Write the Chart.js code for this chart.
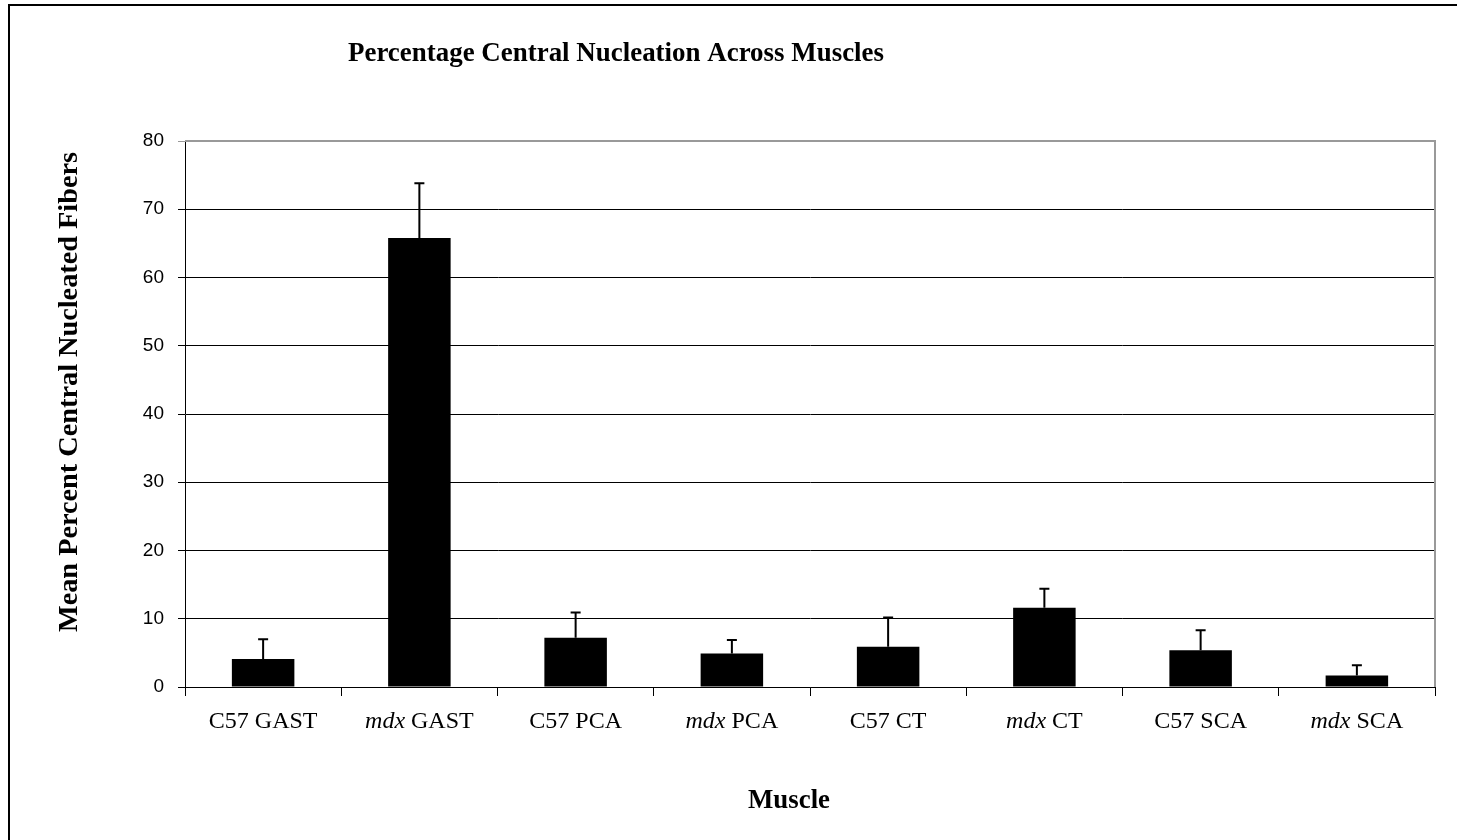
<!DOCTYPE html>
<html>
<head>
<meta charset="utf-8">
<script src="https://cdn.jsdelivr.net/npm/chart.js@4.4.1/dist/chart.umd.min.js"></script>
<style>
  html, body { margin: 0; padding: 0; background: #fff; }
  #wrap { width: 1457px; height: 840px; position: relative; }
</style>
</head>
<body>
<div id="wrap"><canvas id="chart"></canvas></div>
<script>
// data
var muscles = ["C57 GAST", "mdx GAST", "C57 PCA", "mdx PCA", "C57 CT", "mdx CT", "C57 SCA", "mdx SCA"];
var meanCN = [4.1, 65.8, 7.2, 4.9, 5.9, 11.6, 5.4, 1.7];
var errCN = [2.9, 8.0, 3.7, 2.0, 4.3, 2.8, 2.9, 1.5];
var yMax = 80;
var yStep = 10;

var chartTitle = "Percentage Central Nucleation Across Muscles";
var yTitle = "Mean Percent Central Nucleated Fibers";
var xTitle = "Muscle";

// fit a title to the width it has in the original
function stretchText(c, txt, x, y, w) {
    var m = c.measureText(txt).width;
    c.save();
    c.translate(x, y);
    c.scale(w / m, 1);
    c.fillText(txt, 0, 0);
    c.restore();
}

var deco = {
    id: "deco",
    beforeDraw: function(chart) {
        var c = chart.ctx;
        c.save();
        c.fillStyle = "#fff";
        c.fillRect(0, 0, chart.width, chart.height);
        // outer frame (only left + top visible)
        c.strokeStyle = "#000";
        c.lineWidth = 2;
        c.beginPath();
        c.moveTo(9, chart.height);
        c.lineTo(9, 5);
        c.lineTo(chart.width, 5);
        c.stroke();
        c.restore();
    },
    beforeDatasetsDraw: function(chart) {
        var a = chart.chartArea, c = chart.ctx;
        c.save();
        c.strokeStyle = "#999";
        c.lineWidth = 2;
        c.beginPath();
        c.moveTo(a.left, a.top);
        c.lineTo(a.right, a.top);
        c.lineTo(a.right, a.bottom);
        c.stroke();
        c.restore();
    },
    afterDatasetsDraw: function(chart) {
        var c = chart.ctx, y = chart.scales.y;
        var meta = chart.getDatasetMeta(0);
        c.save();
        c.strokeStyle = "#000";
        c.lineWidth = 2;
        meta.data.forEach(function(bar, i) {
            var top = y.getPixelForValue(meanCN[i] + errCN[i]);
            c.beginPath();
            c.moveTo(bar.x, bar.y);
            c.lineTo(bar.x, top);
            c.moveTo(bar.x - 5, top);
            c.lineTo(bar.x + 5, top);
            c.stroke();
        });
        c.restore();
    },
    afterDraw: function(chart) {
        var c = chart.ctx, x = chart.scales.x;
        c.save();
        c.fillStyle = "#000";
        c.textBaseline = "middle";
        c.textAlign = "center";
        c.font = "bold 27px 'Liberation Serif'";
        stretchText(c, chartTitle, 616, 54, 536);
        stretchText(c, xTitle, 789, 801, 82);
        c.save();
        c.translate(70, 392);
        c.rotate(-Math.PI / 2);
        stretchText(c, yTitle, 0, 0, 480);
        c.restore();

        // category labels, "mdx" in italics
        c.textAlign = "left";
        var fs = "24px 'Liberation Serif'";
        muscles.forEach(function(lbl, i) {
            var parts;
            if (lbl.indexOf("mdx ") === 0) {
                parts = [{t: "mdx", f: "italic " + fs}, {t: lbl.slice(3), f: fs}];
            } else {
                parts = [{t: lbl, f: fs}];
            }
            var w = 0;
            parts.forEach(function(p) { c.font = p.f; p.w = c.measureText(p.t).width; w += p.w; });
            var px = x.getPixelForValue(i) - w / 2;
            parts.forEach(function(p) {
                c.font = p.f;
                c.fillText(p.t, px, 722);
                px += p.w;
            });
        });
        c.restore();
    }
};

var ctx = document.getElementById("chart");
new Chart(ctx, {
    type: "bar",
    data: {
        labels: muscles,
        datasets: [{
            data: meanCN,
            backgroundColor: "#000",
            borderWidth: 0,
            barPercentage: 0.4,
            categoryPercentage: 1.0
        }]
    },
    options: {
        responsive: true,
        maintainAspectRatio: false,
        animation: false,
        layout: { padding: { top: 141, right: 22, bottom: 0, left: 0 } },
        plugins: {
            legend: { display: false },
            title: { display: false },
            tooltip: { enabled: false }
        },
        scales: {
            x: {
                afterFit: function(s) { s.height = 153; },
                ticks: { display: false },
                grid: { drawOnChartArea: false, drawTicks: true, tickLength: 9, color: "#000", offset: true },
                border: { color: "#000", width: 1 }
            },
            y: {
                min: 0,
                max: yMax,
                afterFit: function(s) { s.width = 185; },
                ticks: {
                    stepSize: yStep,
                    padding: 14,
                    color: "#000",
                    font: { family: "'Liberation Sans'", size: 19 }
                },
                grid: {
                    tickLength: 7,
                    lineWidth: 1,
                    color: function(c) { return c.tick && c.tick.value === yMax ? "#999" : "#000"; }
                },
                border: { color: "#000", width: 1 }
            }
        }
    },
    plugins: [deco]
});
</script>
</body>
</html>
